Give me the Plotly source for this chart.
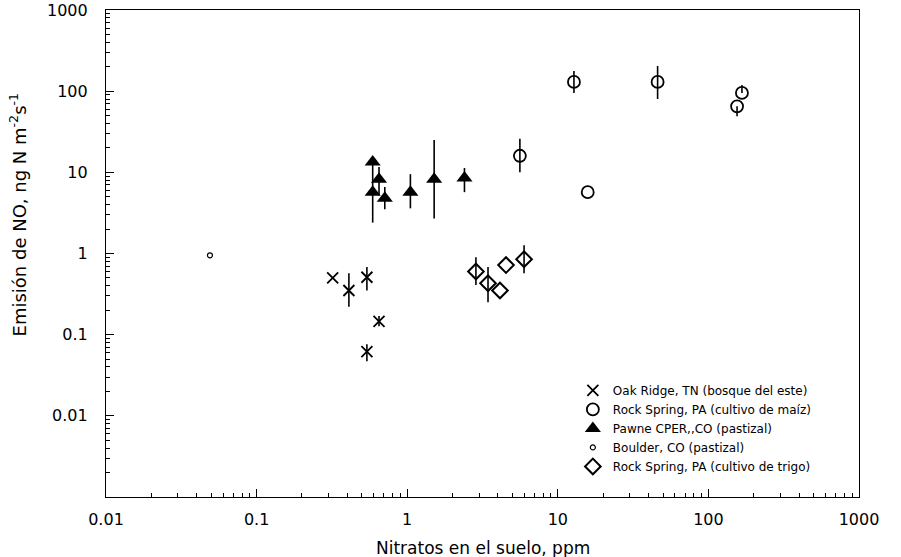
import plotly.graph_objects as go

# Soil nitrate (ppm) vs. NO emission (ng N m-2 s-1), with error-bar limits
oak_x = [0.32, 0.41, 0.54, 0.65, 0.54]
oak_y = [0.50, 0.35, 0.51, 0.146, 0.062]
oak_hi = [0.50, 0.57, 0.68, 0.17, 0.076]
oak_lo = [0.50, 0.22, 0.35, 0.127, 0.047]

corn_x = [5.6, 12.8, 15.8, 46, 155, 167]
corn_y = [16, 130, 5.7, 130, 65, 95]
corn_hi = [26, 177, 5.7, 204, 65, 119]
corn_lo = [10, 95, 5.7, 80, 49, 95]

pawne_x = [0.59, 0.65, 0.59, 0.71, 1.05, 1.51, 2.4]
pawne_y = [13.4, 8.2, 5.7, 4.8, 5.7, 8.2, 8.5]
pawne_hi = [13.4, 11.6, 13, 6.6, 9.5, 25, 11.3]
pawne_lo = [13.4, 5.2, 2.4, 3.5, 3.6, 2.7, 5.7]

boulder_x = [0.049]
boulder_y = [0.95]

wheat_x = [2.86, 3.44, 4.13, 4.53, 5.97]
wheat_y = [0.60, 0.43, 0.35, 0.72, 0.85]
wheat_hi = [0.90, 0.68, 0.35, 0.72, 1.26]
wheat_lo = [0.41, 0.25, 0.35, 0.72, 0.57]

tick_vals = [0.01, 0.1, 1, 10, 100, 1000]
tick_text = ["0.01", "0.1", "1", "10", "100", "1000"]

FONT = "DejaVu Sans, Arial, sans-serif"


def err(y, hi, lo):
    return dict(type="data", symmetric=False,
                array=[h - v for v, h in zip(y, hi)],
                arrayminus=[v - l for v, l in zip(y, lo)],
                color="black", thickness=1.6, width=0)


fig = go.Figure()
fig.add_trace(go.Scatter(
    x=oak_x, y=oak_y, mode="markers", name="Oak Ridge, TN (bosque del este)",
    marker=dict(symbol="x-thin-open", size=11, color="black",
                line=dict(width=1.8, color="black")),
    error_y=err(oak_y, oak_hi, oak_lo)))
fig.add_trace(go.Scatter(
    x=corn_x, y=corn_y, mode="markers", name="Rock Spring, PA (cultivo de maíz)",
    marker=dict(symbol="circle-open", size=12, color="black",
                line=dict(width=1.8, color="black")),
    error_y=err(corn_y, corn_hi, corn_lo)))
fig.add_trace(go.Scatter(
    x=pawne_x, y=pawne_y, mode="markers", name="Pawne CPER,,CO (pastizal)",
    marker=dict(symbol="triangle-up", size=14, color="black"),
    error_y=err(pawne_y, pawne_hi, pawne_lo)))
fig.add_trace(go.Scatter(
    x=boulder_x, y=boulder_y, mode="markers", name="Boulder, CO (pastizal)",
    marker=dict(symbol="circle-open", size=5, color="black",
                line=dict(width=1.2, color="black"))))
fig.add_trace(go.Scatter(
    x=wheat_x, y=wheat_y, mode="markers", name="Rock Spring, PA (cultivo de trigo)",
    marker=dict(symbol="diamond-open", size=12, color="black",
                line=dict(width=2, color="black")),
    error_y=err(wheat_y, wheat_hi, wheat_lo)))

minor_x = [m * 10.0 ** e for e in range(-2, 3) for m in range(2, 10)]
minor_y = [m * 10.0 ** e for e in range(-3, 3) for m in range(2, 10)]

axis_common = dict(
    type="log", showgrid=False, zeroline=False, showline=True,
    linecolor="black", linewidth=1.2, mirror=True,
    ticks="inside", ticklen=8, tickwidth=1.2, tickcolor="black",
    tickfont=dict(family=FONT, size=16, color="black"),
)

fig.update_xaxes(range=[-2, 3], tickmode="array", tickvals=tick_vals,
                 ticktext=tick_text, ticklabelstandoff=8,
                 minor=dict(tickmode="array", tickvals=minor_x, ticks="inside",
                            ticklen=4, tickcolor="black", tickwidth=1),
                 **axis_common)
fig.update_yaxes(range=[-3, 3], tickmode="array", tickvals=tick_vals,
                 ticktext=tick_text, ticklabelstandoff=14,
                 minor=dict(tickmode="array", tickvals=minor_y, ticks="inside",
                            ticklen=4, tickcolor="black", tickwidth=1),
                 **axis_common)

fig.add_annotation(text="Nitratos en el suelo, ppm", xref="paper", yref="paper",
                   x=0.5, y=-0.105, xanchor="center", yanchor="middle",
                   showarrow=False, font=dict(family=FONT, size=17, color="black"))
fig.add_annotation(text="Emisión de NO, ng N m<sup>-2</sup>s<sup>-1</sup>",
                   xref="paper", yref="paper", x=-0.117, y=0.58,
                   xanchor="center", yanchor="middle", textangle=-90,
                   showarrow=False, font=dict(family=FONT, size=18, color="black"))

fig.update_layout(
    width=901, height=557,
    margin=dict(l=106, r=42, t=10, b=60, autoexpand=False),
    paper_bgcolor="white", plot_bgcolor="white",
    showlegend=True,
    legend=dict(x=0.62, y=0.033, xanchor="left", yanchor="bottom",
                bgcolor="rgba(0,0,0,0)", tracegroupgap=0,
                font=dict(family=FONT, size=12, color="black")),
)

fig.write_html("out.html")
